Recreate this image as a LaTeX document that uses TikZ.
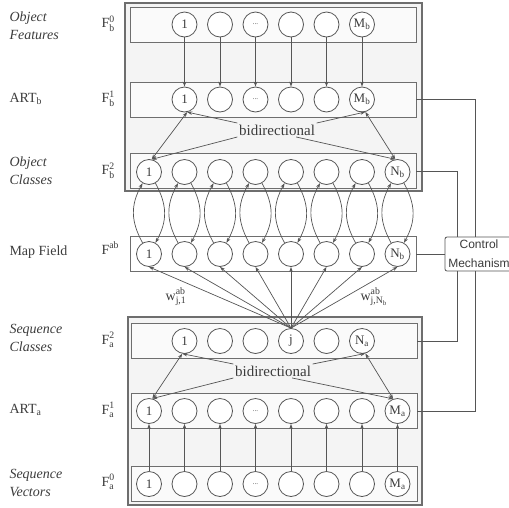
\documentclass[tikz,border=0pt]{standalone}
\usepackage{fontspec}
\setmainfont{Liberation Serif}
\setsansfont{Liberation Sans}
\usepackage{amsmath}
\usetikzlibrary{arrows.meta}
\definecolor{ln}{HTML}{555555}
\definecolor{tx}{HTML}{3C3C3C}
\newcommand\Mb{M\textsubscript{b}}
\newcommand\Nb{N\textsubscript{b}}
\newcommand\Ma{M\textsubscript{a}}
\newcommand\Na{N\textsubscript{a}}
\newcommand\dts{{\fontsize{7}{7}\selectfont ...}}
\begin{document}
\begin{tikzpicture}[x=1pt,y=-1pt,
  every node/.style={text=tx},
  unit/.style={circle,draw=ln,line width=0.8pt,fill=white,minimum size=25pt,inner sep=0pt,font=\fontsize{13}{13}\selectfont},
  outerbox/.style={draw=ln!85,line width=1.2pt,fill=gray!9,minimum width=#1,minimum height=188pt,inner sep=0pt},
  rowbox/.style={draw=ln!85,line width=0.9pt,fill=gray!4,minimum width=286pt,minimum height=35pt,inner sep=0pt},
  lab/.style={anchor=west,align=left,font=\fontsize{14}{18}\selectfont},
  ilab/.style={lab,font=\fontsize{14}{18}\selectfont\itshape},
  flab/.style={anchor=west,font=\fontsize{14}{16}\selectfont},
  conn/.style={draw=ln,line width=0.7pt},
  arr/.style={conn,-{Stealth[length=5pt,width=3.5pt]}},
  barr/.style={conn,{Stealth[length=5pt,width=3.5pt]}-{Stealth[length=5pt,width=3.5pt]}},
  bidi/.style={font=\fontsize{15}{15}\selectfont,inner sep=1.5pt}]
\useasboundingbox (0,0) rectangle (509,507);
% outer boxes
\node[outerbox=297pt] (ob) at (273.5,97) {};
\node[outerbox=294pt] (oa) at (275,411) {};
% rows
\node[rowbox] (rb0) at (273,24.5) {};
\node[rowbox] (rb1) at (273,99.5) {};
\node[rowbox] (rb2) at (273,171) {};
\node[rowbox,fill=white] (rmf) at (273,254) {};
\node[rowbox] (ra2) at (274,341) {};
\node[rowbox] (ra1) at (274,411) {};
\node[rowbox] (ra0) at (274,484) {};
% units
\foreach \k/\t in {2/1,3/{},4/{\dts},5/{},6/{},7/{\Mb}} {
  \node[unit] (b0\k) at ({149+(\k-1)*35.5},24.5) {\t};
  \node[unit] (b1\k) at ({149+(\k-1)*35.5},99.5) {\t};
}
\foreach \k/\t in {1/1,2/{},3/{},4/{},5/{},6/{},7/{},8/{\Nb}} {
  \node[unit] (b2\k) at ({149+(\k-1)*35.5},172) {\t};
  \node[unit] (mf\k) at ({149+(\k-1)*35.5},254) {\t};
}
\foreach \k/\t in {2/1,3/{},4/{},5/j,6/{},7/{\Na}} {
  \node[unit] (a2\k) at ({149+(\k-1)*35.5},341) {\t};
}
\foreach \k/\t in {1/1,2/{},3/{},4/{\dts},5/{},6/{},7/{},8/{\Ma}} {
  \node[unit] (a1\k) at ({149+(\k-1)*35.5},411) {\t};
  \node[unit] (a0\k) at ({149+(\k-1)*35.5},484) {\t};
}
% vertical connections
\foreach \k in {2,...,7} { \draw[arr] (b0\k.south) -- (b1\k.north); }
\foreach \k in {1,...,8} { \draw[arr] (a0\k.north) -- (a1\k.south); }
% F_b^2 <-> map field loops
\foreach \k in {1,...,8} {
  \draw[arr] (mf\k.120) .. controls +(-12,-22) and +(-12,22) .. (b2\k.240);
  \draw[arr] (b2\k.300) .. controls +(12,22) and +(12,-22) .. (mf\k.60);
}
% j to map field
\foreach \k in {1,...,8} { \draw[arr] (a25.north) -- (mf\k.south); }
% bidirectional (b)
\node[bidi] (bidb) at (277,130) {bidirectional};
\draw[barr] (b12.-78) -- (b21.78);
\draw[barr] (b17.-75) -- (b28.100);
\draw[arr] (bidb.north west) -- (b12.-78);
\draw[arr] (bidb.south west) -- (b21.78);
\draw[arr] (bidb.north east) -- (b17.-75);
\draw[arr] (bidb.-20) -- (b28.100);
% bidirectional (a)
\node[bidi] (bida) at (273,371) {bidirectional};
\draw[barr] (a22.-100) -- (a11.75);
\draw[barr] (a27.-75) -- (a18.110);
\draw[arr] (bida.north west) -- (a22.-100);
\draw[arr] (bida.south west) -- (a11.75);
\draw[arr] (bida.north east) -- (a27.-75);
\draw[arr] (bida.-20) -- (a18.110);
% weights
\node[font=\fontsize{14}{14}\selectfont] (w1) at (176,297) {w$^{\text{ab}}_{\text{j,1}}$};
\node[font=\fontsize{14}{14}\selectfont] (w2) at (374,297) {w$^{\text{ab}}_{\text{j,N\textsubscript{b}}}$};
% control
\node[draw=ln,line width=0.8pt,rounded corners=2pt,fill=white,minimum width=68pt,minimum height=34pt,align=center,inner sep=0pt,font=\sffamily\fontsize{12}{19}\selectfont] (ctrl) at (479,254) {Control\\Mechanism};
\draw[conn] (rb1.east) -| ([xshift=-4pt]ctrl.north);
\draw[conn] (rb2.east) -| ([xshift=-22pt]ctrl.north);
\draw[conn] (rmf.east) -- (ctrl.west);
\draw[conn] ([xshift=-22pt]ctrl.south) |- (ra2.east);
\draw[conn] ([xshift=-4pt]ctrl.south) |- (ra1.east);
% left labels
\node[ilab] (l1) at (6,26) {Object\\Features};
\node[lab] (l2) at (6,99) {ART\textsubscript{b}};
\node[ilab] (l3) at (6,171) {Object\\Classes};
\node[lab] (l4) at (6,252) {Map Field};
\node[ilab] (l5) at (6,338) {Sequence\\Classes};
\node[lab] (l6) at (6,410) {ART\textsubscript{a}};
\node[ilab] (l7) at (6,483) {Sequence\\Vectors};
\node[flab] (f1) at (98,24) {F$^{\text{0}}_{\text{b}}$};
\node[flab] (f2) at (98,99) {F$^{\text{1}}_{\text{b}}$};
\node[flab] (f3) at (98,171) {F$^{\text{2}}_{\text{b}}$};
\node[flab] (f4) at (98,248) {F$^{\text{ab}}$};
\node[flab] (f5) at (98,340) {F$^{\text{2}}_{\text{a}}$};
\node[flab] (f6) at (98,410) {F$^{\text{1}}_{\text{a}}$};
\node[flab] (f7) at (98,482) {F$^{\text{0}}_{\text{a}}$};
\end{tikzpicture}
\end{document}
